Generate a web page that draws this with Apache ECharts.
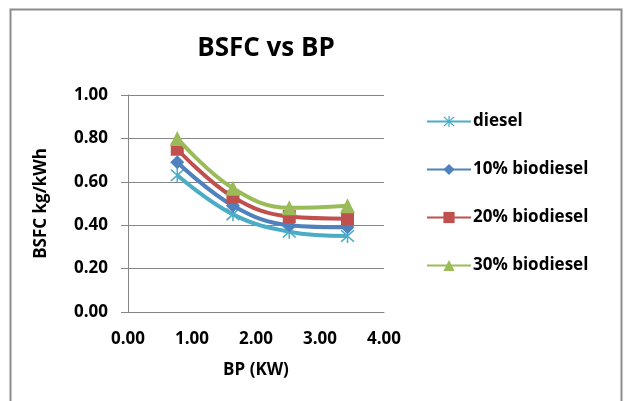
<!DOCTYPE html>
<html>
<head>
<meta charset="utf-8">
<script src="https://cdn.jsdelivr.net/npm/echarts@6/dist/echarts.min.js"></script>
<style>
  html, body { margin: 0; padding: 0; background: #fff; }
  #chart { width: 625px; height: 401px; }
</style>
</head>
<body>
<div id="chart"></div>
<script>
// BSFC vs BP
const bp = [0.77, 1.64, 2.52, 3.43]
const diesel = [0.63, 0.45, 0.37, 0.35]
const bio10 = [0.69, 0.49, 0.40, 0.39]
const bio20 = [0.75, 0.53, 0.44, 0.43]
const bio30 = [0.80, 0.57, 0.48, 0.49]
const seriesNames = ['diesel', '10% biodiesel', '20% biodiesel', '30% biodiesel']
const seriesColors = ['#4bacc6', '#4f81bd', '#c0504d', '#9bbb59']

// asterisk marker built from thin bars
const starPath = 'path://M9,0 L11,0 L11,20 L9,20 Z M1,2.5 L2.5,1 L19,17.5 L17.5,19 Z M17.5,1 L19,2.5 L2.5,19 L1,17.5 Z'
const symbols = [starPath, 'diamond', 'rect', 'triangle']
const symbolSizes = [14, 14, 13, 15]

const chart = echarts.init(document.getElementById('chart'))
const font = 'Open Sans'

const allValues = [diesel, bio10, bio20, bio30]
const series = allValues.map((vals, i) => ({
  name: seriesNames[i],
  type: 'line',
  smooth: 0.4,
  data: vals.map((v, j) => [bp[j], v]),
  symbol: symbols[i],
  symbolSize: symbolSizes[i],
  lineStyle: { width: 4, color: seriesColors[i] },
  itemStyle: { color: seriesColors[i] },
  z: 2 + i
}))

chart.setOption({
  animation: false,
  backgroundColor: '#fff',
  graphic: [{
    type: 'rect',
    shape: { x: 10.5, y: 9.5, width: 611, height: 400 },
    style: { fill: 'none', stroke: '#8c8c8c', lineWidth: 2 },
    silent: true
  }],
  title: {
    text: 'BSFC vs BP',
    left: 261,
    textAlign: 'center',
    top: 31,
    textStyle: { fontFamily: font, fontWeight: 'bold', fontSize: 26, color: '#000' }
  },
  legend: {
    orient: 'vertical',
    left: 421,
    top: 108,
    itemGap: 31,
    itemWidth: 44,
    itemHeight: 14,
    textStyle: { fontFamily: font, fontWeight: 'bold', fontSize: 17, color: '#000', padding: [0, 0, 0, -3] },
    data: seriesNames
  },
  grid: { left: 128, right: 241, top: 95, bottom: 89, containLabel: false },
  xAxis: {
    type: 'value',
    min: 0,
    max: 4,
    interval: 1,
    name: 'BP (KW)',
    nameLocation: 'middle',
    nameGap: 50,
    nameTextStyle: { fontFamily: font, fontWeight: 'bold', fontSize: 17, color: '#000' },
    axisLine: { lineStyle: { color: '#868686' } },
    axisTick: { show: false },
    splitLine: { show: false },
    axisLabel: {
      fontFamily: font, fontWeight: 'bold', fontSize: 17, color: '#000', margin: 19,
      formatter: v => v.toFixed(2)
    }
  },
  yAxis: {
    type: 'value',
    min: 0,
    max: 1,
    interval: 0.2,
    name: 'BSFC kg/kWh',
    nameLocation: 'middle',
    nameGap: 78,
    nameTextStyle: { fontFamily: font, fontWeight: 'bold', fontSize: 17, color: '#000' },
    axisLine: { show: true, lineStyle: { color: '#868686' } },
    axisTick: { show: true, inside: false, length: 7, lineStyle: { color: '#868686' } },
    splitLine: { show: true, lineStyle: { color: '#868686' } },
    axisLabel: {
      fontFamily: font, fontWeight: 'bold', fontSize: 17, color: '#000', margin: 20,
      formatter: v => v.toFixed(2)
    }
  },
  series: series
})
</script>
</body>
</html>
